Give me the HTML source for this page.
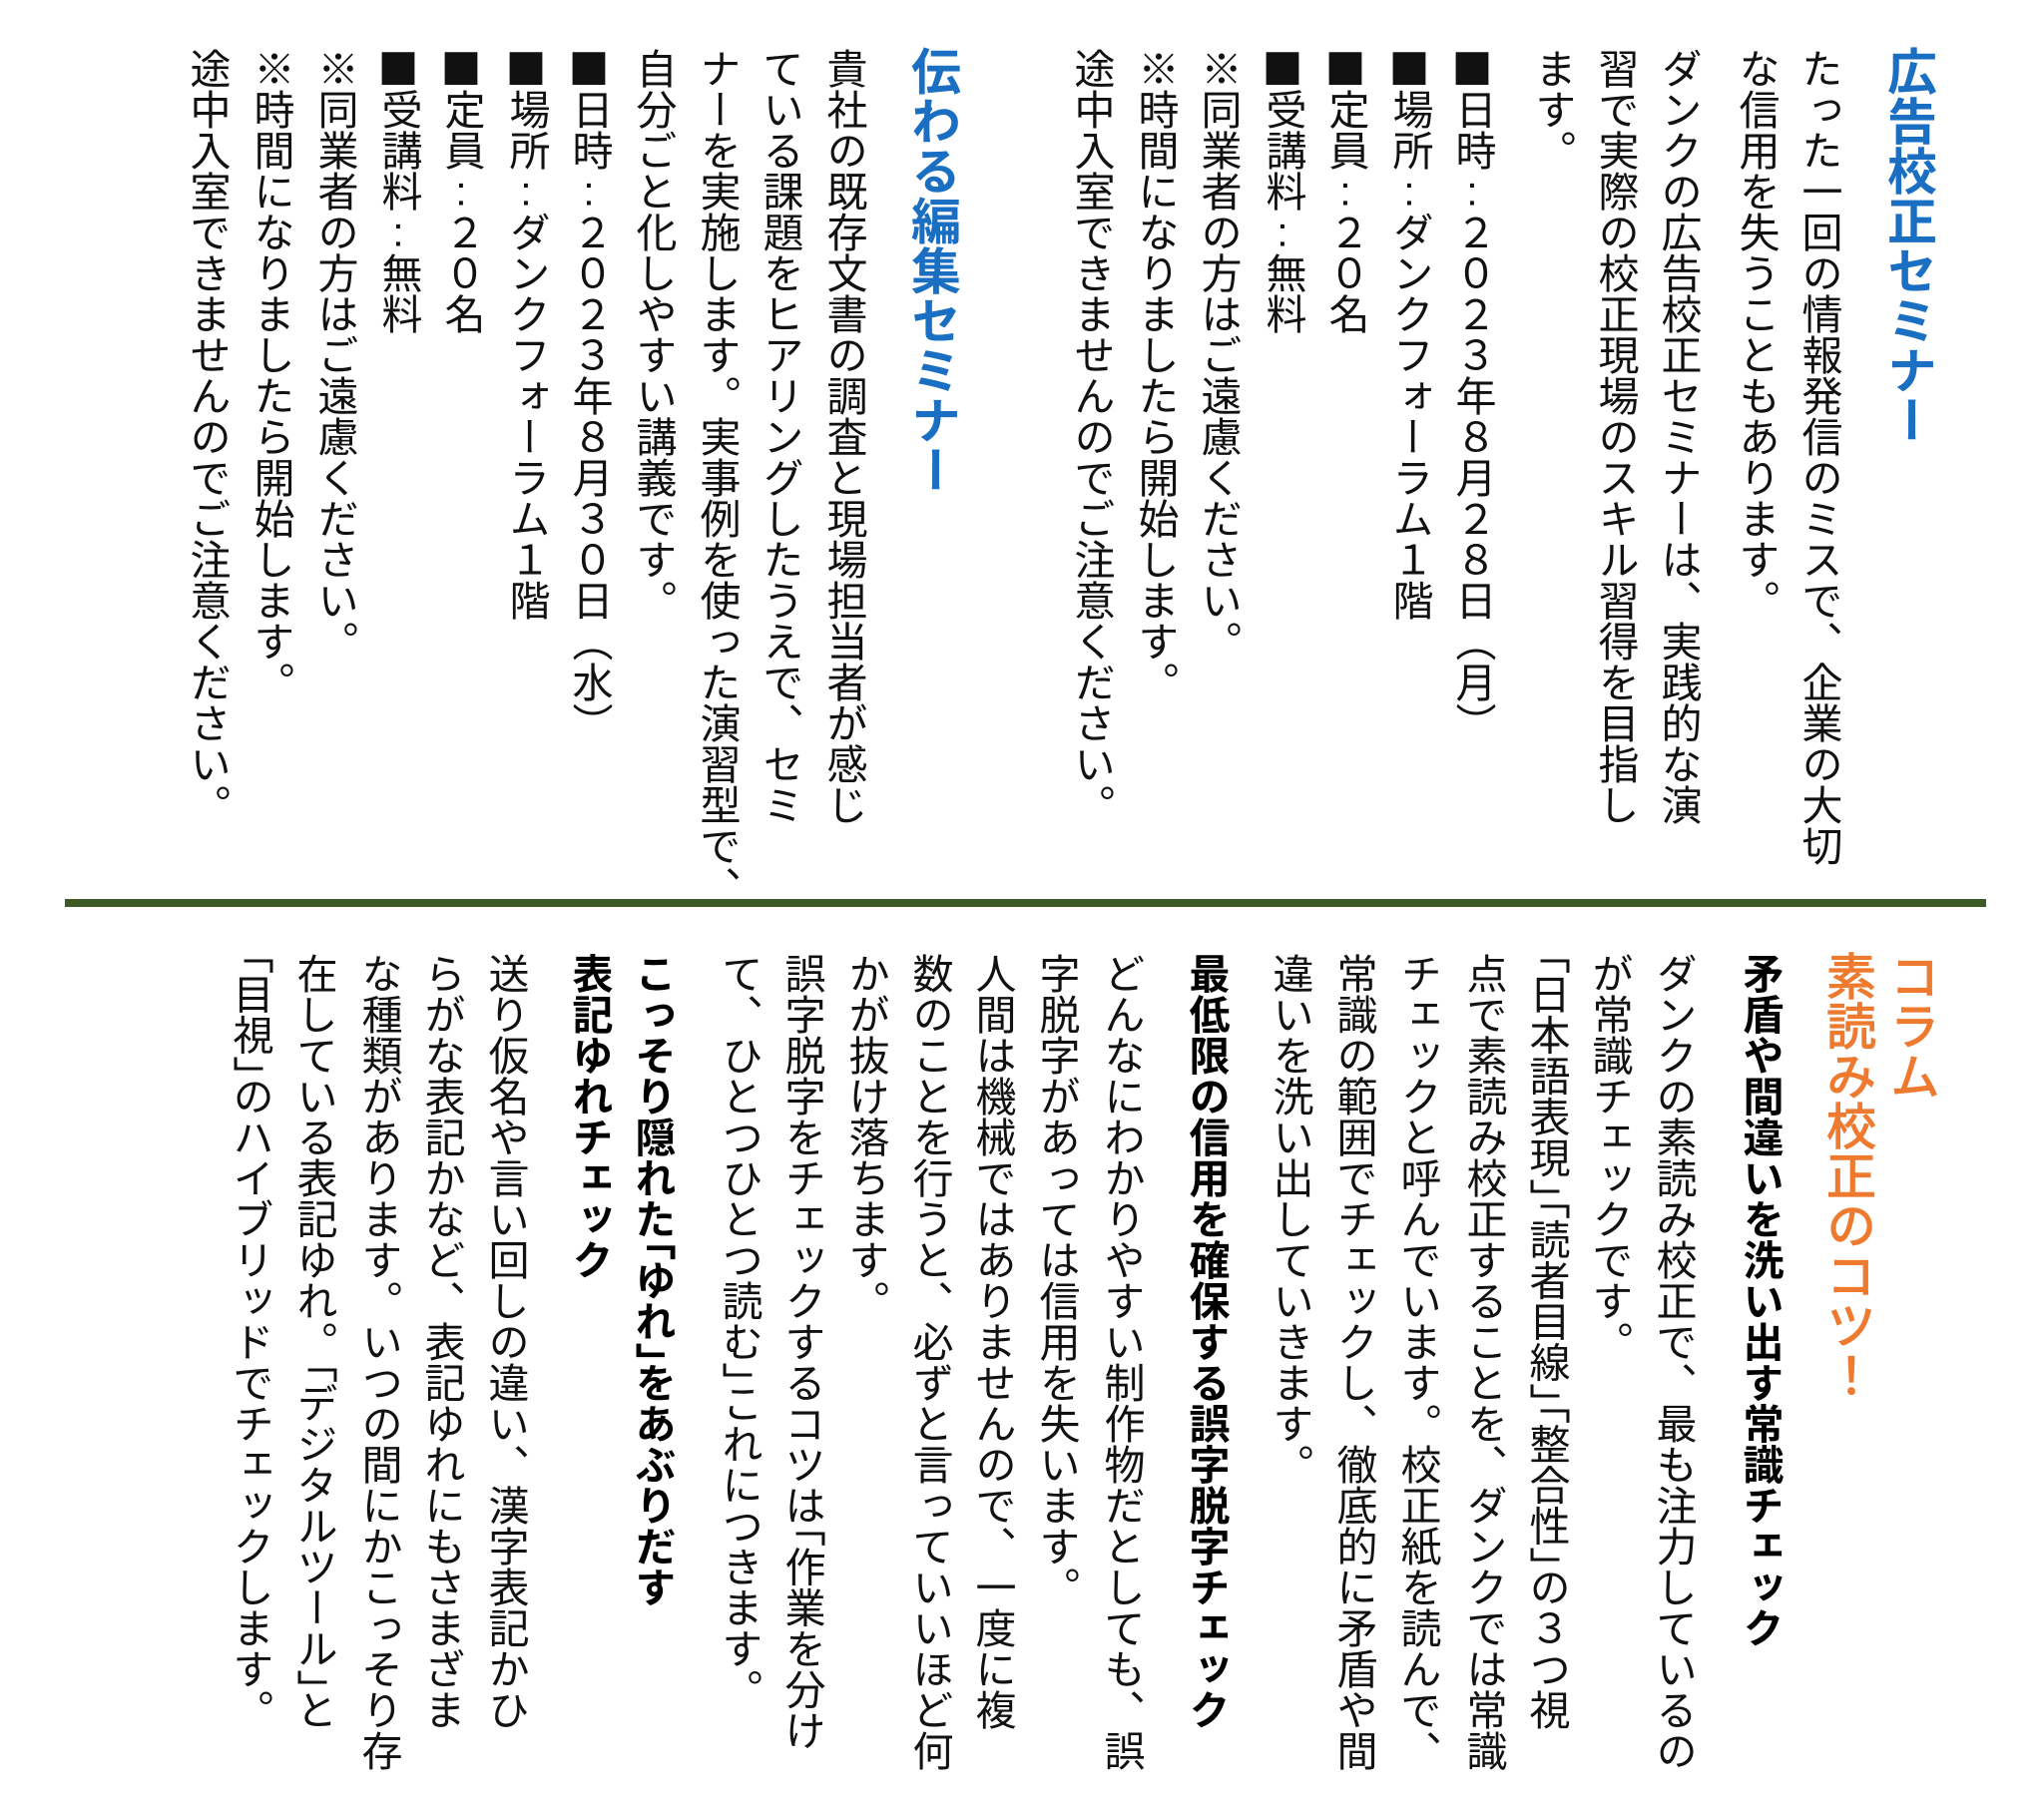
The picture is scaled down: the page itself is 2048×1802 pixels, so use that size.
<!DOCTYPE html>
<html lang="ja">
<head>
<meta charset="utf-8">
<style>
  html,body{margin:0;padding:0;}
  body{width:2048px;height:1802px;background:#fff;position:relative;overflow:hidden;
    font-family:"Liberation Sans","Noto Sans CJK JP",sans-serif;}
  .c{position:absolute;writing-mode:vertical-rl;white-space:nowrap;width:60px;line-height:60px;
    font-size:41px;color:#111;font-weight:400;text-spacing-trim:space-all;}
  .b{font-weight:700;color:#000;}
  .tb{font-size:50px;font-weight:700;color:#1b6fc2;}
  .to{font-size:50px;font-weight:400;color:#ee7a30;-webkit-text-stroke:1.2px #ee7a30;}
  .sq{font-family:"Noto Sans CJK JP",sans-serif;}
  .tcy{text-combine-upright:all;font-family:"Liberation Sans",sans-serif;}
  .ob{margin-top:-0.5em;}
  .cb{margin-bottom:-0.5em;}
  .rule{position:absolute;left:65px;top:901px;width:1925px;height:8px;background:#3d5a27;}
</style>
</head>
<body>

<!-- Top right: 広告校正セミナー -->
<div class="c tb" style="left:1882px;top:46px;">広告校正セミナー</div>
<div class="c" style="left:1792px;top:48px;">たった一回の情報発信のミスで、企業の大切</div>
<div class="c" style="left:1729px;top:48px;">な信用を失うこともあります。</div>
<div class="c" style="left:1651px;top:48px;">ダンクの広告校正セミナーは、実践的な演</div>
<div class="c" style="left:1588px;top:48px;">習で実際の校正現場のスキル習得を目指し</div>
<div class="c" style="left:1525px;top:48px;">ます。</div>
<div class="c" style="left:1445px;top:48px;"><span class="sq">■</span>日時<span class="tcy">:</span>２０２３年８月２８日（月）</div>
<div class="c" style="left:1382px;top:48px;"><span class="sq">■</span>場所<span class="tcy">:</span>ダンクフォーラム１階</div>
<div class="c" style="left:1318px;top:48px;"><span class="sq">■</span>定員<span class="tcy">:</span>２０名</div>
<div class="c" style="left:1255px;top:48px;"><span class="sq">■</span>受講料<span class="tcy">:</span>無料</div>
<div class="c" style="left:1190px;top:48px;">※同業者の方はご遠慮ください。</div>
<div class="c" style="left:1127px;top:48px;">※時間になりましたら開始します。</div>
<div class="c" style="left:1063px;top:48px;">途中入室できませんのでご注意ください。</div>

<!-- Top left: 伝わる編集セミナー -->
<div class="c tb" style="left:904px;top:46px;">伝わる編集セミナー</div>
<div class="c" style="left:815px;top:48px;">貴社の既存文書の調査と現場担当者が感じ</div>
<div class="c" style="left:751px;top:48px;">ている課題をヒアリングしたうえで、セミ</div>
<div class="c" style="left:688px;top:48px;">ナーを実施します。実事例を使った演習型で、</div>
<div class="c" style="left:624px;top:48px;">自分ごと化しやすい講義です。</div>
<div class="c" style="left:560px;top:48px;"><span class="sq">■</span>日時<span class="tcy">:</span>２０２３年８月３０日（水）</div>
<div class="c" style="left:497px;top:48px;"><span class="sq">■</span>場所<span class="tcy">:</span>ダンクフォーラム１階</div>
<div class="c" style="left:432px;top:48px;"><span class="sq">■</span>定員<span class="tcy">:</span>２０名</div>
<div class="c" style="left:369px;top:48px;"><span class="sq">■</span>受講料<span class="tcy">:</span>無料</div>
<div class="c" style="left:305px;top:48px;">※同業者の方はご遠慮ください。</div>
<div class="c" style="left:241px;top:48px;">※時間になりましたら開始します。</div>
<div class="c" style="left:177px;top:48px;">途中入室できませんのでご注意ください。</div>

<div class="rule"></div>

<!-- Bottom: コラム -->
<div class="c to" style="left:1885px;top:953px;">コラム</div>
<div class="c to" style="left:1821px;top:953px;">素読み校正のコツ！</div>

<div class="c b" style="left:1733px;top:955px;">矛盾や間違いを洗い出す常識チェック</div>
<div class="c" style="left:1646px;top:955px;">ダンクの素読み校正で、最も注力しているの</div>
<div class="c" style="left:1582px;top:955px;">が常識チェックです。</div>
<div class="c" style="left:1519px;top:955px;"><span class="ob">「</span>日本語表現<span class="cb">」</span><span class="ob">「</span>読者目線<span class="cb">」</span><span class="ob">「</span>整合性<span class="cb">」</span>の３つ視</div>
<div class="c" style="left:1456px;top:955px;">点で素読み校正することを、ダンクでは常識</div>
<div class="c" style="left:1390px;top:955px;">チェックと呼んでいます。校正紙を読んで、</div>
<div class="c" style="left:1326px;top:955px;">常識の範囲でチェックし、徹底的に矛盾や間</div>
<div class="c" style="left:1262px;top:955px;">違いを洗い出していきます。</div>

<div class="c b" style="left:1178px;top:955px;">最低限の信用を確保する誤字脱字チェック</div>
<div class="c" style="left:1093px;top:955px;">どんなにわかりやすい制作物だとしても、誤</div>
<div class="c" style="left:1028px;top:955px;">字脱字があっては信用を失います。</div>
<div class="c" style="left:964px;top:955px;">人間は機械ではありませんので、一度に複</div>
<div class="c" style="left:901px;top:955px;">数のことを行うと、必ずと言っていいほど何</div>
<div class="c" style="left:837px;top:955px;">かが抜け落ちます。</div>
<div class="c" style="left:773px;top:955px;">誤字脱字をチェックするコツは<span class="ob">「</span>作業を分け</div>
<div class="c" style="left:710px;top:955px;">て、ひとつひとつ読む<span class="cb">」</span>これにつきます。</div>

<div class="c b" style="left:623px;top:955px;">こっそり隠れた<span class="ob">「</span>ゆれ<span class="cb">」</span>をあぶりだす</div>
<div class="c b" style="left:560px;top:955px;">表記ゆれチェック</div>
<div class="c" style="left:476px;top:955px;">送り仮名や言い回しの違い、漢字表記かひ</div>
<div class="c" style="left:412px;top:955px;">らがな表記かなど、表記ゆれにもさまざま</div>
<div class="c" style="left:349px;top:955px;">な種類があります。いつの間にかこっそり存</div>
<div class="c" style="left:284px;top:955px;">在している表記ゆれ。<span class="ob">「</span>デジタルツール<span class="cb">」</span>と</div>
<div class="c" style="left:220px;top:955px;"><span class="ob">「</span>目視<span class="cb">」</span>のハイブリッドでチェックします。</div>

</body>
</html>
